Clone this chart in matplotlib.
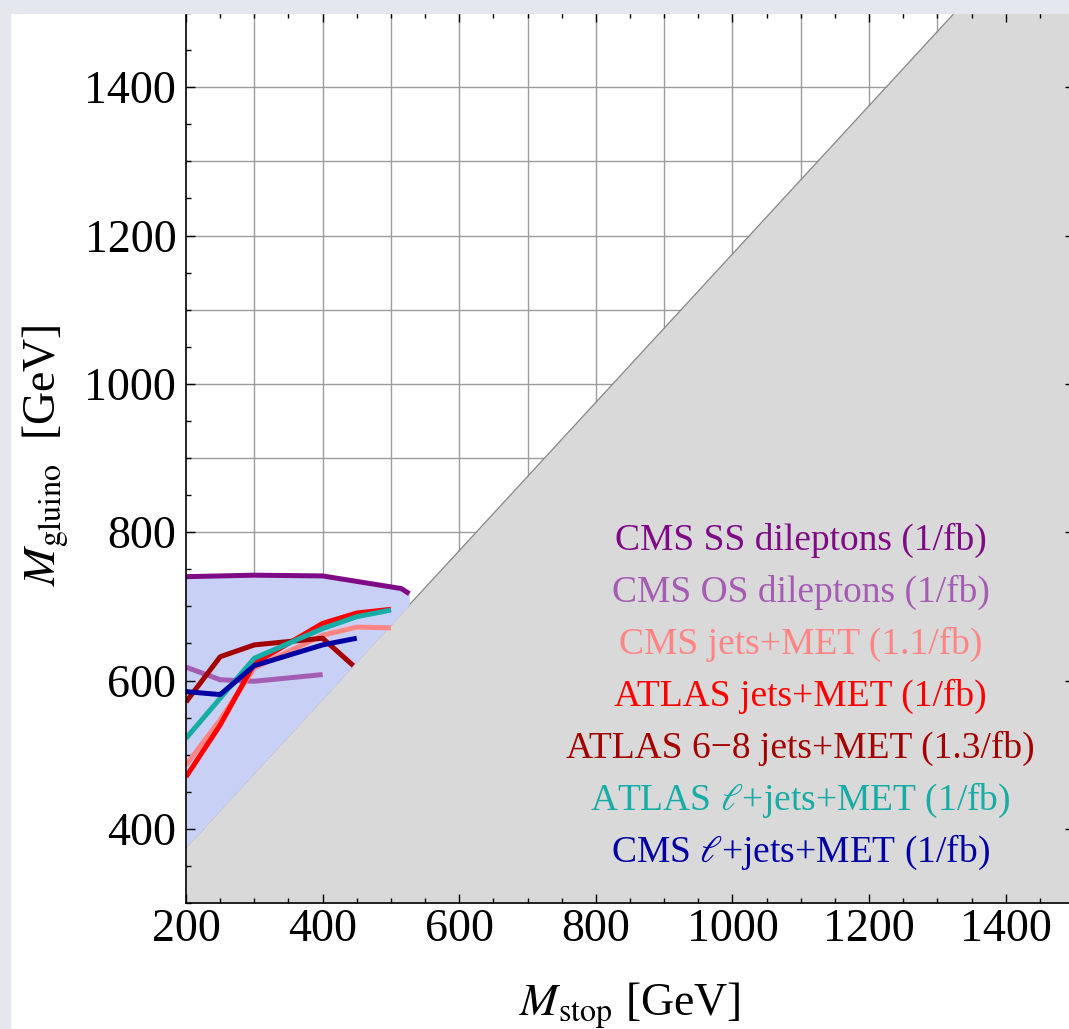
import numpy as np
import matplotlib
matplotlib.use("Agg")
import matplotlib.pyplot as plt
from matplotlib.patches import Rectangle

plt.rcParams['font.family'] = ['Liberation Serif', 'DejaVu Serif']
plt.rcParams['mathtext.fontset'] = 'stix'

# Exclusion contours in the (stop mass, gluino mass) plane, GeV
ss_dilep_x = [200, 300, 400, 515, 527]
ss_dilep_y = [740, 742, 741, 724, 717]

os_dilep_x = [200, 250, 300, 400]
os_dilep_y = [618, 601, 599, 608]

cms_jets_x = [200, 250, 300, 400, 450, 500]
cms_jets_y = [486, 547, 617, 661, 672, 671]

atlas_jets_x = [200, 250, 300, 400, 450, 500]
atlas_jets_y = [470, 540, 623, 677, 691, 696]

atlas_68jets_x = [200, 250, 300, 400, 445]
atlas_68jets_y = [571, 632, 648, 657, 620]

atlas_lep_x = [200, 250, 300, 400, 450, 500]
atlas_lep_y = [522, 576, 630, 670, 686, 695]

cms_lep_x = [200, 250, 300, 400, 450]
cms_lep_y = [585, 581, 620, 648, 657]

# Kinematic boundary: gluino -> stop + top
TOP_MASS = 175

series = [
    ("CMS SS dileptons (1/fb)", ss_dilep_x, ss_dilep_y, '#7f0a86'),
    ("CMS OS dileptons (1/fb)", os_dilep_x, os_dilep_y, '#a55db3'),
    ("CMS jets+MET (1.1/fb)", cms_jets_x, cms_jets_y, '#ff8585'),
    ("ATLAS jets+MET (1/fb)", atlas_jets_x, atlas_jets_y, '#ff0000'),
    ("ATLAS 6\u22128 jets+MET (1.3/fb)", atlas_68jets_x, atlas_68jets_y, '#a30000'),
    (r"ATLAS $\ell$+jets+MET (1/fb)", atlas_lep_x, atlas_lep_y, '#17aca6'),
    (r"CMS $\ell$+jets+MET (1/fb)", cms_lep_x, cms_lep_y, '#0000a3'),
]

W, H = 1069, 1029
fig = plt.figure(figsize=(W / 100, H / 100), dpi=100)
fig.patch.set_facecolor('white')

# light frame strips along the left and top edges
fig.patches.append(Rectangle((0, 0), 10 / W, 1, transform=fig.transFigure,
                             color='#e4e8ee', zorder=0))
fig.patches.append(Rectangle((0, 1 - 13 / H), 1, 13 / H, transform=fig.transFigure,
                             color='#e4e8ee', zorder=0))

ax = fig.add_axes([186 / W, (H - 903) / H, 888 / W, 890 / H])
ax.set_xlim(200, 1500)
ax.set_ylim(300, 1500)

# grid every 100 GeV
for v in np.arange(300, 1500, 100):
    ax.axvline(v, color='#9c9c9c', lw=1.0, zorder=0.5)
for v in np.arange(400, 1500, 100):
    ax.axhline(v, color='#9c9c9c', lw=1.0, zorder=0.5)

# kinematically forbidden region
xb = np.array([200, 1500])
ax.fill_between(xb, 300, xb + TOP_MASS, color='#d9d9d9', lw=0, zorder=1)
ax.plot(xb, xb + TOP_MASS, color='#8a8a8a', lw=1.0, zorder=1.1)

# combined excluded region
sx = np.array(ss_dilep_x)
ax.fill_between(sx, sx + TOP_MASS, ss_dilep_y, color='#c9d0f5', lw=0, zorder=1.2)

for label, xs, ys, c in series:
    ax.plot(xs, ys, color=c, lw=3.6, solid_capstyle='butt', zorder=3)

label_y = [776, 706, 636, 566, 496, 426, 356]
for (label, xs, ys, c), yy in zip(series, label_y):
    ax.text(1100, yy, label, color=c, fontsize=27, ha='center', va='baseline',
            zorder=4)

ax.set_xticks(np.arange(200, 1401, 200))
ax.set_yticks(np.arange(400, 1401, 200))
ax.set_xticks(np.arange(200, 1501, 50), minor=True)
ax.set_yticks(np.arange(300, 1501, 50), minor=True)
ax.tick_params(which='both', direction='in', top=True, right=True,
               color='black', width=1.0, zorder=5)
ax.tick_params(which='major', length=6.5, labelsize=33)
ax.tick_params(axis='y', which='major', pad=7)
ax.tick_params(axis='x', which='major', pad=4)
ax.tick_params(which='minor', length=3.6)
for s in ax.spines.values():
    s.set_linewidth(1.2)
    s.set_zorder(5)

ax.set_xlabel(r'$M_{\rm stop}$ [GeV]', fontsize=33, va='baseline')
ax.xaxis.set_label_coords(0.5, -0.1258)
ax.set_ylabel(r'$M_{\rm gluino}$  [GeV]', fontsize=33, va='center')
ax.yaxis.set_label_coords(-0.1588, 0.503)

fig.savefig('out.png', dpi=100)
